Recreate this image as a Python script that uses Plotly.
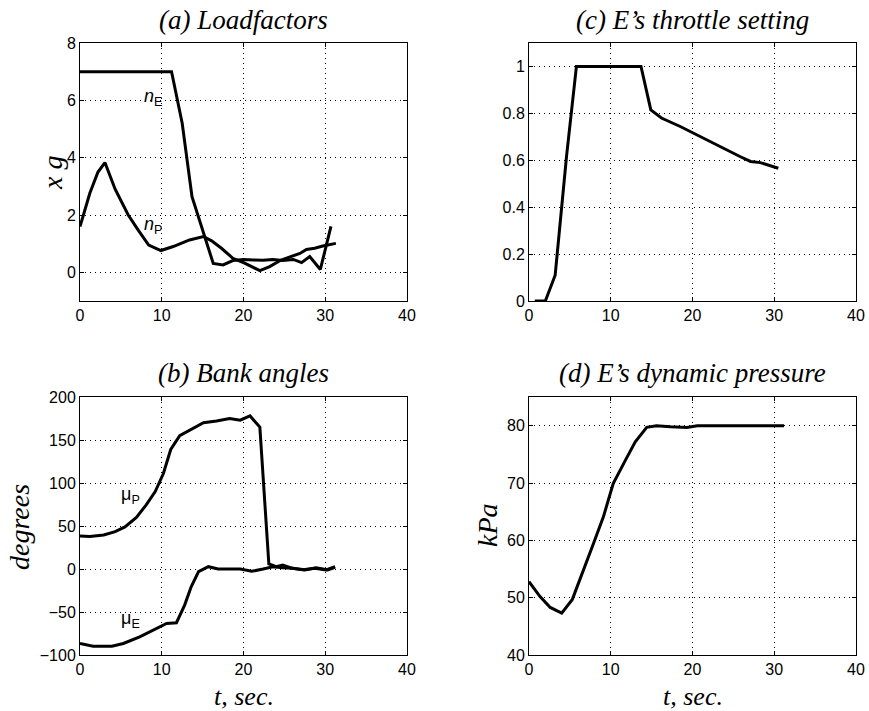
import plotly.graph_objects as go

# (a) Loadfactors
tE_a = [0, 11.2, 12.5, 13.7, 16.3, 17.5, 18.7, 20.0, 21.2, 22.4, 23.6, 24.8, 26.1, 27.1, 28.1, 29.4, 30.7]
nE = [7.0, 7.0, 5.2, 2.64, 0.31, 0.26, 0.41, 0.45, 0.43, 0.42, 0.45, 0.41, 0.45, 0.34, 0.55, 0.1, 1.6]
tP_a = [0, 1.2, 2.2, 3.05, 4.3, 5.9, 7.1, 8.4, 9.9, 11.4, 13.4, 15.1, 16.1, 17.3, 18.7, 20.2, 22.0, 23.2, 24.6, 25.9, 26.9, 27.7, 28.7, 29.7, 31.3]
nP = [1.6, 2.76, 3.5, 3.83, 2.9, 2.0, 1.48, 0.95, 0.76, 0.9, 1.13, 1.25, 1.1, 0.84, 0.49, 0.31, 0.06, 0.2, 0.43, 0.55, 0.66, 0.8, 0.84, 0.92, 1.01]

# (c) E's throttle setting
t_c = [0.7, 2.0, 3.2, 4.6, 5.8, 13.7, 14.9, 16.2, 18.5, 20.5, 22.6, 24.2, 25.8, 27.1, 28.3, 30.5]
throttle = [0, 0, 0.11, 0.62, 1.0, 1.0, 0.815, 0.78, 0.744, 0.708, 0.673, 0.644, 0.616, 0.595, 0.59, 0.566]

# (b) Bank angles
tP_b = [0, 1.2, 2.9, 4.3, 5.5, 6.9, 8.1, 9.2, 10.2, 11.1, 12.2, 13.6, 15.1, 16.7, 18.3, 19.6, 20.8, 22.0, 23.1, 24.0, 24.8, 26.0, 27.3, 28.7, 30.1, 31.2]
muP = [38.4, 37.7, 39.6, 43.5, 49, 60, 74.6, 90, 111, 139, 155, 162, 170, 172, 175, 173, 178, 165, 5.8, 2.7, 4.7, 0.8, -1, 0.8, -1, 2.7]
tE_b = [0, 1.6, 3.9, 5.3, 7.3, 9.0, 10.6, 11.8, 12.8, 13.6, 14.5, 15.7, 16.9, 19.6, 21.0, 22.4, 23.6, 24.8, 26.0, 27.5, 28.9, 30.3, 31.2]
muE = [-86.6, -89.7, -89.7, -86.6, -78.8, -71, -63.3, -62.5, -42, -20.6, -3, 2.7, 0, 0, -2.7, 0, 2.7, 1.5, 0.8, -1, 1.5, -1, 2]

# (d) E's dynamic pressure
t_d = [0, 1.35, 2.6, 4.0, 5.3, 6.7, 7.9, 9.1, 10.3, 11.8, 13.0, 14.4, 15.6, 17.3, 19.3, 20.6, 31.2]
qE = [52.8, 50.2, 48.3, 47.3, 49.7, 54.8, 59.5, 64.1, 69.9, 74.0, 77.2, 79.7, 80.0, 79.8, 79.7, 80.0, 80.0]

x_ticks = [0, 10, 20, 30, 40]

fig = go.Figure()
line = dict(color="black", width=3)
fig.add_trace(go.Scatter(x=tE_a, y=nE, mode="lines", line=line, xaxis="x", yaxis="y"))
fig.add_trace(go.Scatter(x=tP_a, y=nP, mode="lines", line=line, xaxis="x", yaxis="y"))
fig.add_trace(go.Scatter(x=t_c, y=throttle, mode="lines", line=line, xaxis="x2", yaxis="y2"))
fig.add_trace(go.Scatter(x=tP_b, y=muP, mode="lines", line=line, xaxis="x3", yaxis="y3"))
fig.add_trace(go.Scatter(x=tE_b, y=muE, mode="lines", line=line, xaxis="x3", yaxis="y3"))
fig.add_trace(go.Scatter(x=t_d, y=qE, mode="lines", line=line, xaxis="x4", yaxis="y4"))

W, H = 869, 711
def px(v): return v / W
def py(v): return 1 - v / H

tickfont = dict(family="Liberation Sans", size=16, color="black")
common = dict(showline=True, linecolor="black", linewidth=1, mirror="ticks",
              ticks="inside", ticklen=4, tickcolor="black", tickfont=tickfont,
              showgrid=True, gridcolor="black", gridwidth=1, griddash="1px,4px",
              zeroline=False, automargin=False)

xdomL = [px(80), px(407)]
xdomR = [px(529), px(856)]
ydomT = [py(301), py(43)]
ydomB = [py(655), py(397)]

fig.update_layout(
    width=W, height=H, margin=dict(l=0, r=0, t=0, b=0, pad=0),
    paper_bgcolor="white", plot_bgcolor="white", showlegend=False,
    xaxis=dict(domain=xdomL, anchor="y", range=[0, 40], tickvals=x_ticks, **common),
    yaxis=dict(domain=ydomT, anchor="x", range=[-1, 8], tickvals=[0, 2, 4, 6, 8], **common),
    xaxis2=dict(domain=xdomR, anchor="y2", range=[0, 40], tickvals=x_ticks, **common),
    yaxis2=dict(domain=ydomT, anchor="x2", range=[0, 1.1], tickvals=[0, 0.2, 0.4, 0.6, 0.8, 1],
                ticktext=["0", "0.2", "0.4", "0.6", "0.8", "1"], **common),
    xaxis3=dict(domain=xdomL, anchor="y3", range=[0, 40], tickvals=x_ticks, **common),
    yaxis3=dict(domain=ydomB, anchor="x3", range=[-100, 200], tickvals=[-100, -50, 0, 50, 100, 150, 200], **common),
    xaxis4=dict(domain=xdomR, anchor="y4", range=[0, 40], tickvals=x_ticks, **common),
    yaxis4=dict(domain=ydomB, anchor="x4", range=[40, 85], tickvals=[40, 50, 60, 70, 80], **common),
)

title_font = dict(family="Liberation Serif", size=27, color="black")
ylab_font = dict(family="Liberation Serif", size=28, color="black")
xlab_font = dict(family="Liberation Serif", size=26, color="black")
sans = dict(family="Liberation Sans", size=18, color="black")
anns = [
    dict(text="<i>(a) Loadfactors</i>", x=px(243.5), y=py(20), font=title_font),
    dict(text="<i>(c) E\u2019s throttle setting</i>", x=px(692.5), y=py(20), font=title_font),
    dict(text="<i>(b) Bank angles</i>", x=px(243.5), y=py(373), font=title_font),
    dict(text="<i>(d) E\u2019s dynamic pressure</i>", x=px(692.5), y=py(373), font=title_font),
    dict(text="<i>t, sec.</i>", x=px(243.5), y=py(696), font=xlab_font),
    dict(text="<i>t, sec.</i>", x=px(692.5), y=py(696), font=xlab_font),
    dict(text="<i>x g</i>", x=px(52), y=py(173), font=ylab_font, textangle=-90),
    dict(text="<i>degrees</i>", x=px(19), y=py(527), font=ylab_font, textangle=-90),
    dict(text="<i>kPa</i>", x=px(487), y=py(525), font=ylab_font, textangle=-90),
]
for a in anns:
    a.update(xref="paper", yref="paper", showarrow=False, xanchor="center", yanchor="middle")
    fig.add_annotation(**a)

labels = [
    dict(text="<i>n</i><sub>E</sub>", x=8.9, y=6.1, xref="x", yref="y"),
    dict(text="<i>n</i><sub>P</sub>", x=8.9, y=1.65, xref="x", yref="y"),
    dict(text="\u03bc<sub>P</sub>", x=6.2, y=86, xref="x3", yref="y3"),
    dict(text="\u03bc<sub>E</sub>", x=6.2, y=-59, xref="x3", yref="y3"),
]
for a in labels:
    a.update(showarrow=False, font=sans, xanchor="center", yanchor="middle")
    fig.add_annotation(**a)

fig.write_html("out.html", config={"displayModeBar": False},
               post_script="document.body.style.margin='0';document.body.style.overflow='hidden';")
